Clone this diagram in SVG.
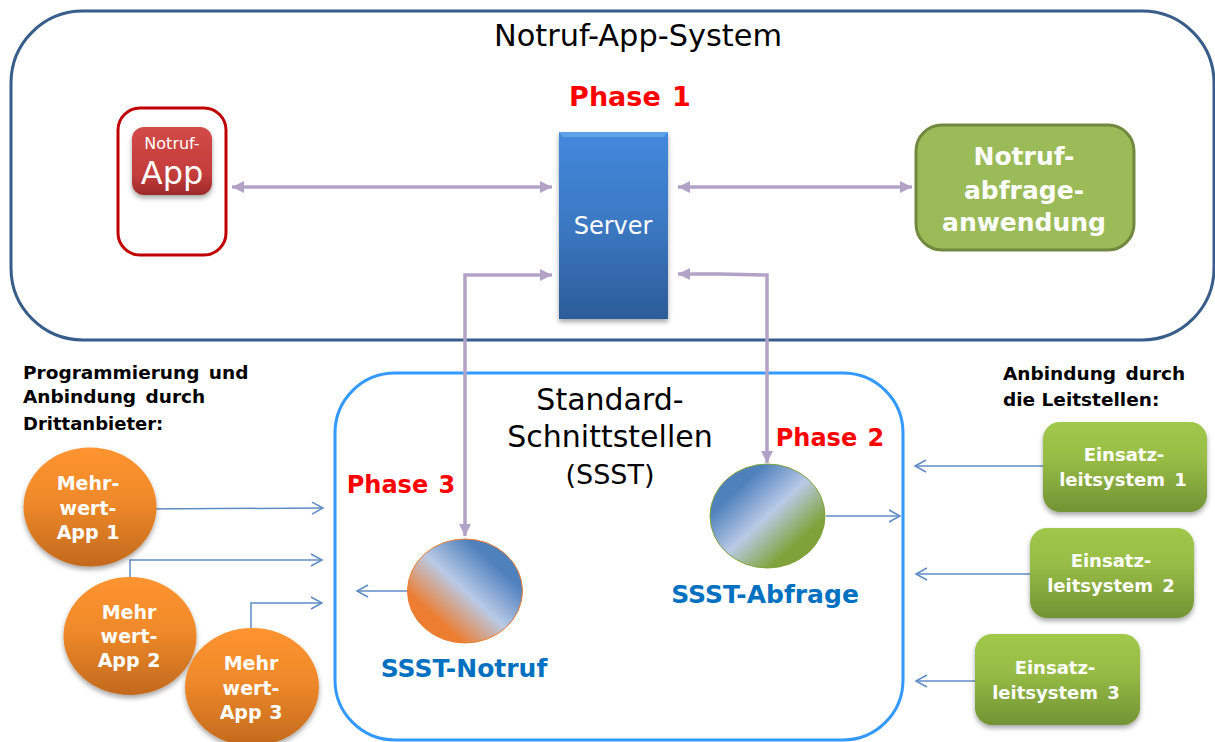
<svg xmlns="http://www.w3.org/2000/svg" width="1215" height="742" viewBox="0 0 1215 742">
<style>
text{font-family:"DejaVu Sans",sans-serif;text-anchor:middle}
.w{fill:#fff}
.wb{fill:#fff;font-weight:bold}
.ph{fill:#ff0000;font-weight:bold;font-size:24px;word-spacing:2px}
.ss{fill:#0070c0;font-weight:bold;font-size:25px}
.k{fill:#000;font-size:30px}
.cap{fill:#000;font-weight:bold;font-size:18.5px;text-anchor:start;word-spacing:3px}
.mw{fill:#fff;font-weight:bold;font-size:19px;word-spacing:1px}
.es{fill:#fff;font-weight:bold;font-size:18px;word-spacing:3px}
.thick{fill:none;stroke:#b3a2c7;stroke-width:3.500;marker-start:url(#ps);marker-end:url(#pe)}
.thin{fill:none;stroke:#5f8cc4;stroke-width:1.500;marker-end:url(#o)}
</style>
<defs>
<marker id="pe" markerUnits="userSpaceOnUse" markerWidth="14" markerHeight="14" refX="12" refY="7" orient="auto"><path d="M0 1L12 7L0 13Z" fill="#b3a2c7"/></marker>
<marker id="ps" markerUnits="userSpaceOnUse" markerWidth="14" markerHeight="14" refX="0" refY="7" orient="auto"><path d="M12 1L0 7L12 13Z" fill="#b3a2c7"/></marker>
<marker id="o" markerUnits="userSpaceOnUse" markerWidth="14" markerHeight="16" refX="12" refY="8" orient="auto"><path d="M1 2L12 8L1 14" fill="none" stroke="#5f8cc4" stroke-width="1.500"/></marker>
<linearGradient id="or" x1="0" y1="0" x2="0" y2="1"><stop offset="0" stop-color="#ff9430"/><stop offset=".45" stop-color="#ef892a"/><stop offset="1" stop-color="#c2691d"/></linearGradient>
<linearGradient id="gr" x1="0" y1="0" x2="0" y2="1"><stop offset="0" stop-color="#a0c84a"/><stop offset=".4" stop-color="#98bd46"/><stop offset="1" stop-color="#729334"/></linearGradient>
<linearGradient id="bl" x1="0" y1="0" x2="0" y2="1"><stop offset="0" stop-color="#4389dc"/><stop offset=".5" stop-color="#3b78c2"/><stop offset="1" stop-color="#2c5c98"/></linearGradient>
<linearGradient id="rd" x1="0" y1="0" x2="0" y2="1"><stop offset="0" stop-color="#d24a48"/><stop offset=".7" stop-color="#c43c3b"/><stop offset="1" stop-color="#9c2a2a"/></linearGradient>
<linearGradient id="abf" gradientUnits="userSpaceOnUse" x1="725" y1="470" x2="810" y2="562"><stop offset=".18" stop-color="#4f81bd"/><stop offset=".5" stop-color="#b9cae6"/><stop offset=".82" stop-color="#7fa33a"/></linearGradient>
<linearGradient id="not" gradientUnits="userSpaceOnUse" x1="507" y1="545" x2="423" y2="637"><stop offset=".18" stop-color="#4f81bd"/><stop offset=".5" stop-color="#b9cae6"/><stop offset=".82" stop-color="#ed7d31"/></linearGradient>
<filter id="sh" x="-15%" y="-15%" width="130%" height="130%"><feDropShadow dx="0" dy="3" stdDeviation="2.500" flood-color="#000" flood-opacity=".35"/></filter>
</defs>
<rect width="1215" height="742" fill="#fff"/>
<g id="notruf-app-system">
<rect x="11" y="11" width="1203" height="329" rx="72" fill="#fff" stroke="#385d8a" stroke-width="3"/>
<text class="k" x="638" y="46" style="font-size:30.400px">Notruf-App-System</text>
</g>
<g id="sst">
<rect x="335" y="373" width="568" height="367" rx="60" fill="#fff" stroke="#3399ff" stroke-width="3"/>
<text class="k" x="610" y="410">Standard-</text>
<text class="k" x="610" y="447">Schnittstellen</text>
<text class="k" x="610" y="484" style="font-size:27px">(SSST)</text>
</g>
<g id="connectors">
<path class="thick" d="M232 187H552"/>
<path class="thick" d="M678 187H912"/>
<path class="thick" d="M552 275H465V536"/>
<path class="thick" d="M678 274L720 274L767 275V463"/>
<path class="thin" d="M142 509L323 508"/>
<path class="thin" d="M130 577V560H322"/>
<path class="thin" d="M251 628V603H322"/>
<path class="thin" d="M826 516H900"/>
<path class="thin" d="M407 591H357"/>
<path class="thin" d="M1043 466H915"/>
<path class="thin" d="M1030 574H916"/>
<path class="thin" d="M975 681H916"/>
</g>
<g id="notruf-app">
<rect x="118" y="108" width="108" height="147" rx="22" fill="#fff" stroke="#c00000" stroke-width="3"/>
<rect x="132" y="127" width="80" height="68" rx="12" fill="url(#rd)" filter="url(#sh)"/>
<text class="w" x="172" y="149" font-size="16">Notruf-</text>
<text class="w" x="172" y="184" font-size="32">App</text>
</g>
<text class="ph" x="630" y="106" style="font-size:27px">Phase 1</text>
<g id="server">
<rect x="559" y="132" width="109" height="187" fill="url(#bl)" filter="url(#sh)"/>
<path d="M559 132H668L664 137H563Z" fill="#5fa3ea"/>
<text class="w" x="613" y="234" font-size="24">Server</text>
</g>
<g id="notrufabfrage">
<rect x="916" y="125" width="218" height="125" rx="26" fill="#9bbb59" stroke="#71893f" stroke-width="3"/>
<text class="wb" x="1024" y="165" font-size="25">Notruf-</text>
<text class="wb" x="1024" y="199" font-size="25">abfrage-</text>
<text class="wb" x="1024" y="231" font-size="25">anwendung</text>
</g>
<text class="ph" x="830" y="446">Phase 2</text>
<text class="ph" x="401" y="493">Phase 3</text>
<g id="sst-abfrage">
<ellipse cx="767.500" cy="516" rx="57.500" ry="52" fill="url(#abf)" stroke="#7fa33a" stroke-width="1"/>
<text class="ss" x="765" y="603">SSST-Abfrage</text>
</g>
<g id="sst-notruf">
<ellipse cx="465" cy="591" rx="57.500" ry="52" fill="url(#not)" stroke="#ed7d31" stroke-width="1"/>
<text class="ss" x="464" y="677">SSST-Notruf</text>
</g>
<text class="cap" x="23" y="379">Programmierung und</text>
<text class="cap" x="23" y="403">Anbindung durch</text>
<text class="cap" x="23" y="430" style="font-size:18px">Drittanbieter:</text>
<text class="cap" x="1003" y="380">Anbindung durch</text>
<text class="cap" x="1003" y="406" style="word-spacing:0">die Leitstellen:</text>
<g id="mehrwert-1">
<ellipse cx="90" cy="507" rx="66.500" ry="59.500" fill="url(#or)" filter="url(#sh)"/>
<text class="mw" x="88" y="490">Mehr-</text><text class="mw" x="88" y="515">wert-</text><text class="mw" x="88" y="539">App 1</text>
</g>
<g id="mehrwert-2">
<ellipse cx="130" cy="636" rx="66.500" ry="59" fill="url(#or)" filter="url(#sh)"/>
<text class="mw" x="129" y="619">Mehr</text><text class="mw" x="129" y="643">wert-</text><text class="mw" x="129" y="667">App 2</text>
</g>
<g id="mehrwert-3">
<ellipse cx="252" cy="687" rx="67" ry="59" fill="url(#or)" filter="url(#sh)"/>
<text class="mw" x="251" y="670">Mehr</text><text class="mw" x="251" y="695">wert-</text><text class="mw" x="251" y="719">App 3</text>
</g>
<g id="einsatz-1">
<rect x="1043" y="422" width="164" height="90" rx="17" fill="url(#gr)" filter="url(#sh)"/>
<text class="es" x="1124" y="461">Einsatz-</text><text class="es" x="1123" y="486">leitsystem 1</text>
</g>
<g id="einsatz-2">
<rect x="1030" y="528" width="164" height="90" rx="17" fill="url(#gr)" filter="url(#sh)"/>
<text class="es" x="1111" y="567">Einsatz-</text><text class="es" x="1111" y="592">leitsystem 2</text>
</g>
<g id="einsatz-3">
<rect x="975" y="634" width="165" height="91" rx="17" fill="url(#gr)" filter="url(#sh)"/>
<text class="es" x="1055" y="674">Einsatz-</text><text class="es" x="1056" y="699">leitsystem 3</text>
</g>
</svg>
